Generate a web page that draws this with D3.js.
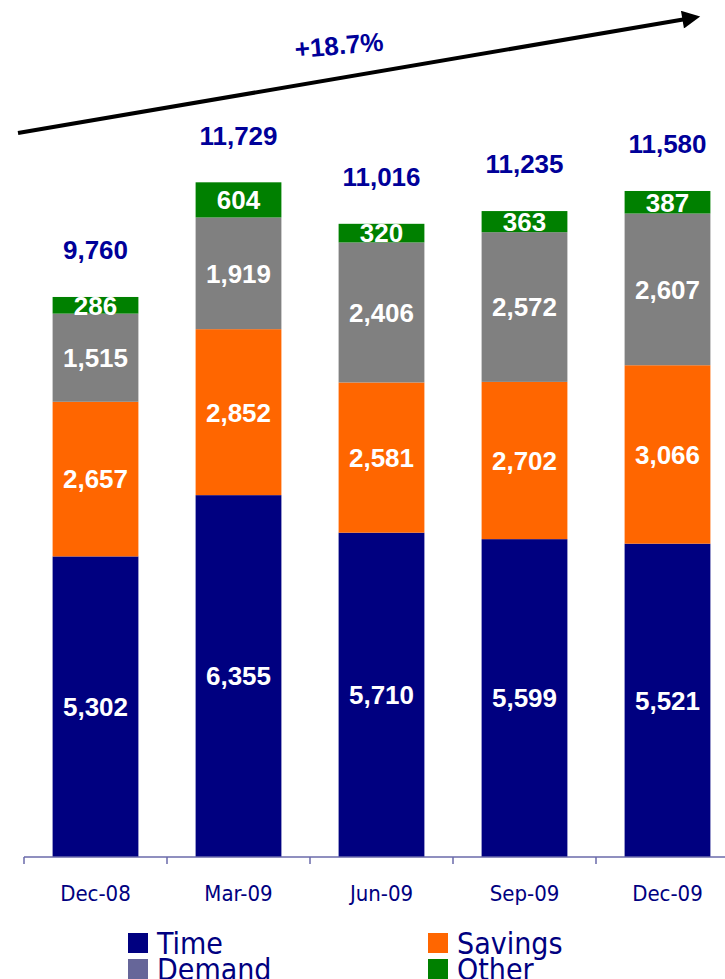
<!DOCTYPE html>
<html>
<head>
<meta charset="utf-8">
<script src="https://cdn.jsdelivr.net/npm/d3@7"></script>
<style>
  body { margin: 0; background: #fff; }
  svg { display: block; }
  .val { font-family: Arial, "Liberation Sans", sans-serif; font-weight: bold; }
  .narrow { font-family: "Liberation Sans Narrow", "Arial Narrow", "DejaVu Sans Condensed", sans-serif; font-stretch: condensed; }
</style>
</head>
<body>
<svg width="725" height="979"></svg>
<script>
/* deposits stacked bars */

var categories = ["Dec-08", "Mar-09", "Jun-09", "Sep-09", "Dec-09"];
var time    = [5302, 6355, 5710, 5599, 5521];
var savings = [2657, 2852, 2581, 2702, 3066];
var demand  = [1515, 1919, 2406, 2572, 2607];
var other   = [286, 604, 320, 363, 387];
var totals  = [9760, 11729, 11016, 11235, 11580];
var growthLabel = "+18.7%";

var seriesNames = ["Time", "Savings", "Demand", "Other"];
var colors = { Time: "#000080", Savings: "#ff6600", Demand: "#808080", Other: "#008000" };
var legendColors = { Time: "#000080", Savings: "#ff6600", Demand: "#666699", Other: "#008000" };

var svg = d3.select("svg"),
    axisY = 857;

var rows = categories.map(function (c, i) {
    return { cat: c, Time: time[i], Savings: savings[i], Demand: demand[i], Other: other[i], total: totals[i] };
});

var x = d3.scaleBand()
    .domain(categories)
    .range([24, 739])
    .paddingInner(0.4)
    .paddingOuter(0.2);

// zero sits a little under the axis line, as in the original
var y = d3.scaleLinear()
    .domain([0, 12000])
    .range([865, 865 - 12000 * 0.0582]);

var stack = d3.stack().keys(seriesNames);
var layers = stack(rows);

var layer = svg.append("g")
    .selectAll("g")
    .data(layers)
    .enter().append("g")
    .attr("fill", function (d) { return colors[d.key]; });

layer.selectAll("rect")
    .data(function (d) { return d; })
    .enter().append("rect")
    .attr("x", function (d) { return x(d.data.cat); })
    .attr("width", x.bandwidth())
    .attr("y", function (d) { return y(d[1]); })
    .attr("height", function (d) { return Math.min(y(d[0]), axisY) - y(d[1]); });

layer.selectAll("text")
    .data(function (d) { return d; })
    .enter().append("text")
    .attr("class", "val")
    .attr("x", function (d) { return x(d.data.cat) + x.bandwidth() / 2; })
    .attr("y", function (d) { return (Math.min(y(d[0]), axisY) + y(d[1])) / 2; })
    .attr("dy", "0.36em")
    .attr("text-anchor", "middle")
    .attr("fill", "#fff")
    .attr("font-size", 26)
    .text(function (d) { return d3.format(",")(d[1] - d[0]); });

// totals
svg.append("g")
    .selectAll("text")
    .data(rows)
    .enter().append("text")
    .attr("class", "val")
    .attr("x", function (d) { return x(d.cat) + x.bandwidth() / 2; })
    .attr("y", function (d) { return y(d.total) - 47; })
    .attr("dy", "0.36em")
    .attr("text-anchor", "middle")
    .attr("fill", "#000099")
    .attr("font-size", 26)
    .text(function (d) { return d3.format(",")(d.total); });

// axis
var axis = svg.append("g").attr("stroke", "#6a6aaa").attr("stroke-width", 1.5);
axis.append("line")
    .attr("x1", 24).attr("x2", 725)
    .attr("y1", axisY).attr("y2", axisY);
axis.selectAll(".tick")
    .data(categories)
    .enter().append("line")
    .attr("x1", function (d) { return x(d) - x.step() * 0.2; })
    .attr("x2", function (d) { return x(d) - x.step() * 0.2; })
    .attr("y1", axisY).attr("y2", axisY + 7);

svg.append("g")
    .selectAll("text")
    .data(categories)
    .enter().append("text")
    .attr("class", "narrow")
    .attr("x", function (d) { return x(d) + x.bandwidth() / 2; })
    .attr("y", 893)
    .attr("dy", "0.36em")
    .attr("text-anchor", "middle")
    .attr("fill", "#000080")
    .attr("font-size", 22)
    .text(function (d) { return d; });

// growth arrow
svg.append("defs").append("marker")
    .attr("id", "head")
    .attr("viewBox", "0 0 10 10")
    .attr("refX", 2).attr("refY", 5)
    .attr("markerWidth", 5).attr("markerHeight", 4.5)
    .attr("orient", "auto")
    .append("path")
    .attr("d", "M0,0L10,5L0,10Z")
    .attr("fill", "#000");

svg.append("line")
    .attr("x1", 18).attr("y1", 133)
    .attr("x2", 686).attr("y2", 19)
    .attr("stroke", "#000")
    .attr("stroke-width", 4)
    .attr("marker-end", "url(#head)");

svg.append("text")
    .attr("class", "val")
    .attr("transform", "translate(339,45) rotate(-5)")
    .attr("dy", "0.36em")
    .attr("text-anchor", "middle")
    .attr("fill", "#000099")
    .attr("font-size", 26)
    .text(growthLabel);

// legend
var legendPos = [[128, 943], [428, 943], [128, 969], [428, 969]];
var legend = svg.append("g")
    .selectAll("g")
    .data(seriesNames)
    .enter().append("g")
    .attr("transform", function (d, i) { return "translate(" + legendPos[i][0] + "," + legendPos[i][1] + ")"; });

legend.append("rect")
    .attr("x", 0).attr("y", -10)
    .attr("width", 20).attr("height", 20)
    .attr("fill", function (d) { return legendColors[d]; });

legend.append("text")
    .attr("class", "narrow")
    .attr("x", 29)
    .attr("dy", "0.36em")
    .attr("fill", "#000080")
    .attr("font-size", 30)
    .text(function (d) { return d; });
</script>
</body>
</html>
